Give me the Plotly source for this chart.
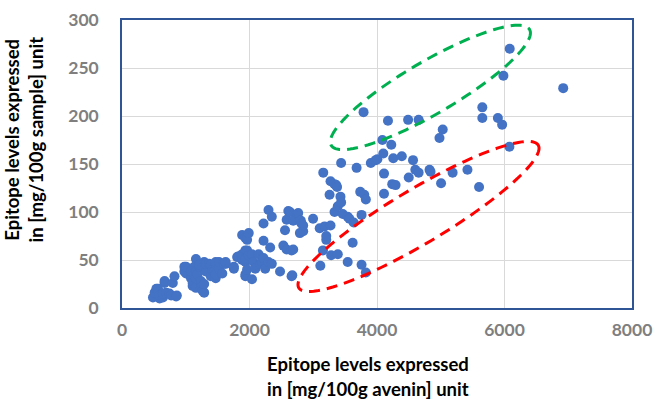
import plotly.graph_objects as go
import numpy as np

# ---- data ----
avenin_x = [
    486, 512, 539, 564, 590, 590, 642, 642, 668, 668, 694, 745, 771, 797, 823, 849, 860,
    978, 978, 1005, 1005,
    1082, 1082, 1108, 1108, 1134, 1160, 1160, 1160, 1160, 1185, 1211, 1211, 1237, 1238,
    1263, 1289, 1289, 1289, 1315, 1315, 1367, 1393, 1393, 1418, 1444, 1470, 1470, 1470,
    1470, 1522, 1522, 1573, 1599, 1626, 1626, 1755, 1755, 1806, 1832, 1884, 1884, 1884,
    1936, 1936, 1936, 1936, 1936, 1936, 1962, 1962, 1962, 1988, 1988,
    2039, 2039, 2065, 2091, 2143, 2169, 2194, 2220, 2220, 2220, 2246, 2298, 2298, 2324,
    2350, 2350, 2479, 2531, 2557, 2583, 2583, 2609, 2635, 2660, 2660, 2671, 2686, 2686,
    2753, 2764, 2790, 2790, 2805, 2815, 2842, 2842, 2997,
    3101, 3111, 3152, 3157, 3178, 3204, 3204, 3256, 3271, 3271, 3281, 3334, 3334, 3360,
    3374, 3385, 3385, 3427, 3437, 3437, 3463, 3540, 3540, 3567, 3618, 3634, 3680, 3737,
    3758, 3758, 3789, 3800, 3825, 3825, 3903, 3980,
    4006, 4084, 4099, 4110, 4110, 4172, 4224, 4239, 4255, 4291, 4389, 4488, 4498, 4565,
    4601, 4653, 4653, 4824, 4840, 4980, 5005, 5031, 5186, 5419, 5601, 5652, 5652, 5896,
    5963, 5983, 6077, 6082, 6921,
]
sample_y = [
    11, 16, 20, 20, 10, 13, 11, 15, 26, 28, 16, 15, 13, 26, 33, 12, 13,
    38, 43, 36, 43,
    31, 38, 23, 26, 43, 21, 31, 38, 51, 35, 43, 45, 28, 21,
    18, 16, 25, 48, 38, 46, 46, 33, 45, 40, 38, 31, 35, 46,
    48, 41, 48, 36, 46, 46, 48, 41, 43, 53, 54, 50, 56, 76,
    33, 35, 48, 51, 60, 73, 40, 60, 71, 55, 78,
    30, 56, 48, 41, 56, 46, 48, 52, 70, 88, 41, 48, 102, 63,
    46, 95, 38, 65, 81, 61, 92, 101, 100, 33, 60, 34, 61, 91,
    98, 99, 78, 91, 91, 88, 80, 86, 93,
    83, 44, 60, 141, 85, 71, 75, 118, 86, 132, 55, 100, 129, 128,
    126, 56, 106, 116, 110, 151, 98, 48, 95, 93, 68, 89, 146, 121,
    45, 97, 204, 118, 37, 113, 151, 154,
    155, 175, 161, 119, 140, 195, 170, 129, 156, 128, 158, 196, 136, 154,
    144, 141, 196, 144, 142, 177, 130, 186, 141, 144, 126, 198, 209, 198,
    191, 242, 168, 270, 229,
]

x_ticks = [0, 2000, 4000, 6000, 8000]
y_ticks = [0, 50, 100, 150, 200, 250, 300]

x_title_lines = ["Epitope levels expressed", "in [mg/100g avenin] unit"]
y_title_lines = ["Epitope levels expressed", "in [mg/100g sample] unit"]

# ---- layout geometry ----
W, H = 661, 406
L, R, T, B = 122, 23, 9, 98
XR = [0, 8000]
YR = [0, 300]
pw = W - L - R
ph = H - T - B


def px_to_data(px, py):
    x = XR[0] + (px - L) / pw * (XR[1] - XR[0])
    y = YR[0] + (H - B - py) / ph * (YR[1] - YR[0])
    return x, y


def px_to_paper(px, py):
    return (px - L) / pw, (H - B - py) / ph


def ellipse_path(cx, cy, a, b, ang_deg, n=120):
    t = np.linspace(0, 2 * np.pi, n)
    th = np.radians(ang_deg)
    ex = cx + a * np.cos(t) * np.cos(th) + b * np.sin(t) * np.sin(th)
    ey = cy - a * np.cos(t) * np.sin(th) + b * np.sin(t) * np.cos(th)
    pts = [px_to_data(px, py) for px, py in zip(ex, ey)]
    return "M " + " L ".join(f"{x:.2f},{y:.3f}" for x, y in pts) + " Z"


fig = go.Figure()
fig.add_trace(go.Scatter(
    x=avenin_x, y=sample_y, mode="markers",
    marker=dict(color="#4472C4", size=10, line=dict(width=0)),
    showlegend=False, hoverinfo="x+y",
))

fig.add_shape(type="path", xref="x", yref="y",
              path=ellipse_path(434, 79, 117, 27, 31),
              line=dict(color="#00B050", width=3, dash="11px,7px"))
fig.add_shape(type="path", xref="x", yref="y",
              path=ellipse_path(422, 213, 142, 28, 31.5),
              line=dict(color="#FF0000", width=3, dash="11px,7px"))

FONT = "Lato, 'Open Sans', sans-serif"
tick_font = dict(family=FONT, size=17.5, color="#7F7F7F", weight="bold")
title_font = dict(family=FONT, size=18.5, color="#000000", weight="bold")

fig.update_xaxes(range=XR, tickvals=x_ticks, showgrid=True, gridcolor="#D9D9D9", gridwidth=1,
                 showline=True, linecolor="#2F5597", linewidth=1.5, mirror=True,
                 zeroline=False, ticks="", tickfont=tick_font, ticklabelstandoff=5,
                 ticklabeloverflow="allow")
fig.update_yaxes(range=YR, tickvals=y_ticks, showgrid=True, gridcolor="#D9D9D9", gridwidth=1,
                 showline=True, linecolor="#2F5597", linewidth=1.5, mirror=True,
                 zeroline=False, ticks="", tickfont=tick_font, ticklabelstandoff=18,
                 ticklabeloverflow="allow")

# x-axis title (two lines)
for line, py in zip(x_title_lines, [366, 392]):
    xp, yp = px_to_paper(371, py)
    fig.add_annotation(text=line, xref="paper", yref="paper", x=xp, y=yp,
                       xanchor="center", yanchor="middle", showarrow=False,
                       font=title_font)
# y-axis title (two rotated lines)
for line, px in zip(y_title_lines, [11, 35]):
    xp, yp = px_to_paper(px, 133)
    fig.add_annotation(text=line, xref="paper", yref="paper", x=xp, y=yp,
                       xanchor="center", yanchor="middle", showarrow=False,
                       font=title_font, textangle=-90)

fig.update_layout(width=W, height=H, margin=dict(l=L, r=R, t=T, b=B),
                  plot_bgcolor="white", paper_bgcolor="white")

fig.write_html("out.html", config={"displayModeBar": False},
               post_script="document.body.style.margin='0px';")
